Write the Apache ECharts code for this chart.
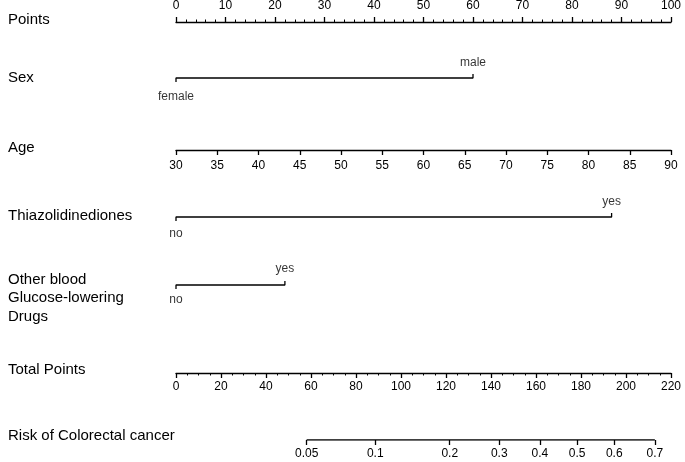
<!DOCTYPE html>
<html><head><meta charset="utf-8">
<script src="https://cdn.jsdelivr.net/npm/echarts@6/dist/echarts.min.js"></script>
<style>html,body{margin:0;padding:0;background:#fff}#c{width:685px;height:462px}</style>
</head><body><div id="c"></div>
<script>
// ---- data ----
const rowNames = ['Points', 'Sex', 'Age', 'Thiazolidinediones', 'Other blood\nGlucose-lowering\nDrugs', 'Total Points', 'Risk of Colorectal cancer'];
const pointsRange = [0, 100];
const pointsStep = 10;
const sexLevels = ['female', 'male'];
const sexPoints = [0, 60];
const ageRange = [30, 90];
const ageStep = 5;
const tzdLevels = ['no', 'yes'];
const tzdPoints = [0, 88];
const otherLevels = ['no', 'yes'];
const otherPoints = [0, 22];
const totalRange = [0, 220];
const totalStep = 20;
const riskTicks = [0.05, 0.1, 0.2, 0.3, 0.4, 0.5, 0.6, 0.7];
const riskIntercept = -4.367; // linear predictor at 0 total points
const riskSlope = 0.0245;     // linear predictor per total point

// ---- layout ----
const FONT = '"Liberation Sans", Arial, sans-serif';
const INK = '#000';
const LEFT = 176, WIDTH = 495;
const labelY = [20, 78, 148, 216, 298, 370, 436];
const lineY = [22, 78, 150, 217, 285, 373, 440];

const riskTP = riskTicks.map(p => (Math.log(p / (1 - p)) - riskIntercept) / riskSlope);
const riskLabels = riskTicks.map(String);

const grids = [], xAxes = [], yAxes = [], series = [];
const lineStyle = { color: INK, width: 1.3 };
const tickLabel = { color: INK, fontSize: 12, fontFamily: FONT };

function numericRow(i, range, step, pos, minorSplit, margin) {
  const top = pos === 'top' ? lineY[i] : lineY[i] - 10;
  grids.push({ left: LEFT, width: WIDTH, top: top, height: 10 });
  xAxes.push({
    gridIndex: i, type: 'value', position: pos, min: range[0], max: range[1], interval: step,
    axisLine: { show: true, onZero: false, lineStyle: lineStyle },
    axisTick: { show: true, length: 5, lineStyle: lineStyle },
    minorTick: { show: minorSplit > 0, splitNumber: minorSplit || 5, length: 2.5, lineStyle: { color: INK, width: 1 } },
    splitLine: { show: false }, minorSplitLine: { show: false },
    axisLabel: Object.assign({ margin: margin }, tickLabel)
  });
  yAxes.push({ gridIndex: i, type: 'value', min: 0, max: 1, show: false });
}

function catRow(i, levels, pts, dLow, dHigh) {
  grids.push({ left: LEFT, width: WIDTH, top: lineY[i] - 4, height: 8 });
  xAxes.push({ gridIndex: i, type: 'value', min: pointsRange[0], max: pointsRange[1], show: false });
  yAxes.push({ gridIndex: i, type: 'value', min: -1, max: 1, show: false });
  series.push({
    type: 'line', xAxisIndex: i, yAxisIndex: i, symbol: 'none', silent: true,
    lineStyle: lineStyle,
    data: [[pts[0], -1], [pts[0], 0], [pts[1], 0], [pts[1], 1]]
  });
  series.push({
    type: 'scatter', xAxisIndex: i, yAxisIndex: i, symbolSize: 1, silent: true,
    itemStyle: { color: 'rgba(0,0,0,0)' },
    data: [
      { value: [pts[0], -1], name: levels[0], label: { show: true, position: 'bottom', distance: dLow } },
      { value: [pts[1], 1], name: levels[1], label: { show: true, position: 'top', distance: dHigh } }
    ],
    label: Object.assign({ formatter: '{b}' }, tickLabel)
  });
}

numericRow(0, pointsRange, pointsStep, 'top', 5, 10);
catRow(1, sexLevels, sexPoints, 8, 5);
numericRow(2, ageRange, ageStep, 'bottom', 0, 10);
catRow(3, tzdLevels, tzdPoints, 6, 5);
catRow(4, otherLevels, otherPoints, 4, 6);
numericRow(5, totalRange, totalStep, 'bottom', 4, 8);

// risk row: positioned on the total-points scale
grids.push({ left: LEFT, width: WIDTH, top: lineY[6] - 10, height: 10 });
xAxes.push({
  gridIndex: 6, type: 'value', position: 'bottom', min: totalRange[0], max: totalRange[1],
  axisLine: { show: false, onZero: false },
  axisTick: { show: true, length: 5, lineStyle: lineStyle, customValues: riskTP },
  splitLine: { show: false },
  axisLabel: Object.assign({
    margin: 8, customValues: riskTP,
    formatter: function (v) {
      let best = 0;
      riskTP.forEach((t, k) => { if (Math.abs(t - v) < Math.abs(riskTP[best] - v)) best = k; });
      return riskLabels[best];
    }
  }, tickLabel)
});
yAxes.push({ gridIndex: 6, type: 'value', min: 0, max: 1, show: false });
series.push({
  type: 'line', xAxisIndex: 6, yAxisIndex: 6, symbol: 'none', silent: true,
  lineStyle: lineStyle,
  data: [[riskTP[0], 0], [riskTP[riskTP.length - 1], 0]]
});

const graphic = rowNames.map((t, i) => ({
  type: 'text', x: 8, y: labelY[i], silent: true,
  style: { text: t, fill: INK, fontSize: 15, fontFamily: FONT, verticalAlign: 'middle', lineHeight: 18.5 }
}));

const chart = echarts.init(document.getElementById('c'), null, { renderer: 'canvas' });
chart.setOption({
  animation: false,
  backgroundColor: '#fff',
  textStyle: { fontFamily: FONT },
  grid: grids, xAxis: xAxes, yAxis: yAxes, series: series, graphic: graphic
});
</script>
</body></html>
